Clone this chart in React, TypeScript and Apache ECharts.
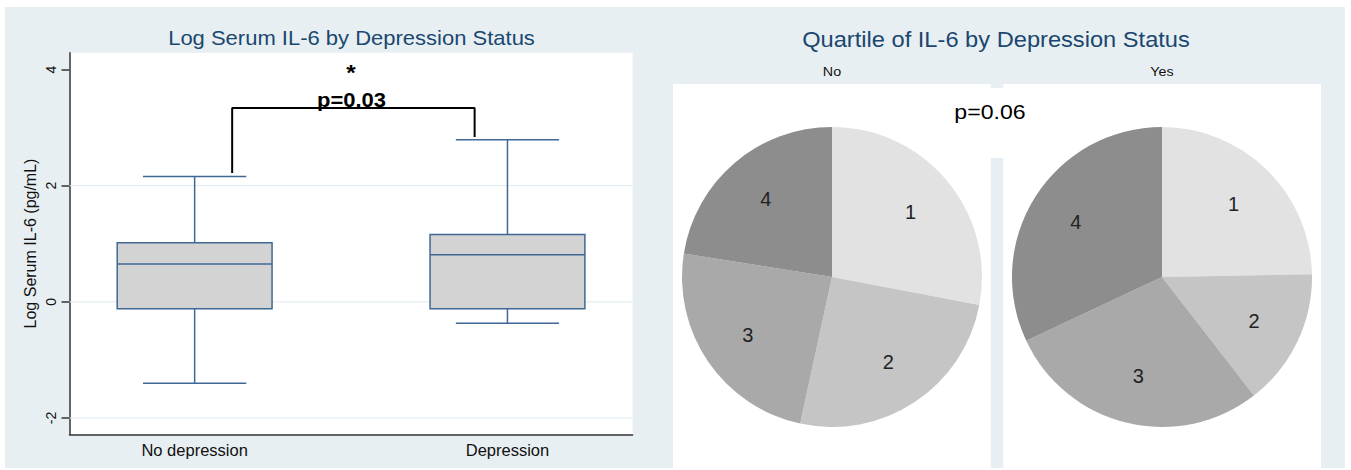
import { useEffect, useRef } from "react";
import * as echarts from "echarts";

// ---------- data ----------
const groups = ["No depression", "Depression"];
const groupPos = [0, 1];
const whiskerLow = [-1.4, -0.37];
const q1 = [-0.12, -0.12];
const median = [0.65, 0.81];
const q3 = [1.02, 1.16];
const whiskerHigh = [2.16, 2.79];
const yTicks = [-2, 0, 2, 4];
const gridValues = [-2, 0, 2];
const bracketX = [0.12, 0.12, 0.895, 0.895];
const bracketY = [2.22, 3.34, 3.34, 2.84];

const quartiles = ["1", "2", "3", "4"];
const pctNo = [28.0, 25.4, 24.1, 22.5];
const pctYes = [24.7, 14.8, 28.5, 32.0];

// ---------- styles ----------
const sliceColors = ["#e2e2e2", "#c5c5c5", "#a9a9a9", "#8d8d8d"];
const BOX_STROKE = "#3f6894";
const BOX_FILL = "#d3d3d3";
const BG = "#e8eff2";
const TITLE = "#1a476f";
const FONT = "'Liberation Sans', Arial, sans-serif";
const GRID = { left: 69.5, top: 52.7, width: 563.1, height: 381.6 };
const SX = 1.1;

export default function App() {
  const ref = useRef<HTMLDivElement>(null);
  useEffect(() => {
    if (!ref.current) return;
    const chart = echarts.init(ref.current, undefined, { renderer: "svg" });

    const pieBase = (center: number[], vals: number[]) => [
      {
        type: "pie",
        center,
        radius: [0, 150],
        startAngle: 90,
        clockwise: true,
        silent: true,
        label: { show: false },
        labelLine: { show: false },
        emphasis: { disabled: true },
        itemStyle: { borderWidth: 0 },
        z: 2,
        data: quartiles.map((q, i) => ({ name: q, value: vals[i], itemStyle: { color: sliceColors[i] } })),
      },
      {
        type: "pie",
        center,
        radius: [48, 150],
        startAngle: 90,
        clockwise: true,
        silent: true,
        labelLine: { show: false },
        emphasis: { disabled: true },
        itemStyle: { color: "rgba(0,0,0,0)", borderWidth: 0 },
        label: { show: true, position: "inside", formatter: "{b}", fontSize: 20, color: "#222", fontFamily: FONT },
        z: 3,
        data: quartiles.map((q, i) => ({ name: q, value: vals[i] })),
      },
    ];

    const txt = (x: number, y: number, text: string, fontSize: number, color: string, fontWeight = "normal") => ({
      type: "text",
      x,
      y,
      scaleX: SX,
      z: 100,
      style: { text, fontSize, fill: color, fontWeight, fontFamily: FONT, textAlign: "center", textVerticalAlign: "middle" },
    });

    chart.setOption({
      animation: false,
      backgroundColor: "#ffffff",
      textStyle: { fontFamily: FONT },
      grid: { left: GRID.left, top: GRID.top, width: GRID.width, height: GRID.height, containLabel: false },
      xAxis: {
        type: "value",
        min: -0.4,
        max: 1.4,
        axisLine: { show: true, onZero: false, lineStyle: { color: "#333", width: 1.5 } },
        axisTick: { show: false },
        splitLine: { show: false },
        axisLabel: {
          customValues: groupPos,
          formatter: (v: number) => groups[Math.round(v)] ?? "",
          fontSize: 16.5,
          color: "#111",
          margin: 7,
        },
      },
      yAxis: {
        type: "value",
        min: -2.28,
        max: 4.29,
        axisLine: { show: true, onZero: false, lineStyle: { color: "#333", width: 1.5 } },
        axisTick: { show: true, customValues: yTicks, length: 8, lineStyle: { color: "#333", width: 1.5 } },
        axisLabel: { customValues: yTicks, rotate: 90, fontSize: 14, color: "#111", margin: 12 },
        splitLine: { show: false },
        name: "Log Serum IL-6 (pg/mL)",
        nameLocation: "middle",
        nameRotate: 90,
        nameGap: 31,
        nameTextStyle: { fontSize: 16, color: "#111" },
      },
      graphic: [
        { type: "rect", z: -100, shape: { x: 5, y: 7, width: 1340, height: 461 }, style: { fill: BG } },
        { type: "rect", z: -90, shape: { x: GRID.left, y: GRID.top, width: GRID.width, height: GRID.height }, style: { fill: "#fff" } },
        { type: "rect", z: -90, shape: { x: 673, y: 84, width: 317.7, height: 384 }, style: { fill: "#fff" } },
        { type: "rect", z: -90, shape: { x: 1003.3, y: 84, width: 317.7, height: 384 }, style: { fill: "#fff" } },
        { type: "rect", z: -90, shape: { x: 989, y: 88, width: 16, height: 70 }, style: { fill: "#fff" } },
        txt(351.5, 38, "Log Serum IL-6 by Depression Status", 20, TITLE),
        txt(996, 40, "Quartile of IL-6 by Depression Status", 21.5, TITLE),
        txt(832, 72, "No", 13, "#111"),
        txt(1162, 72, "Yes", 13, "#111"),
        txt(351, 72, "*", 22, "#000", "bold"),
        txt(351.5, 100, "p=0.03", 20, "#000", "bold"),
        txt(990, 112, "p=0.06", 21, "#000"),
      ],
      series: [
        {
          type: "custom",
          silent: true,
          z: 1,
          data: gridValues.map((v) => [v]),
          encode: { y: 0 },
          renderItem: (params: any, api: any) => {
            const cs = params.coordSys;
            const y = api.coord([0, api.value(0)])[1];
            return {
              type: "line",
              shape: { x1: cs.x, y1: y, x2: cs.x + cs.width, y2: y },
              style: { stroke: "#dde9f0", lineWidth: 1 },
            };
          },
        },
        {
          type: "custom",
          silent: true,
          z: 3,
          data: groupPos.map((x, i) => [x, whiskerLow[i], q1[i], median[i], q3[i], whiskerHigh[i]]),
          encode: { x: 0, y: [1, 2, 3, 4, 5] },
          renderItem: (_params: any, api: any) => {
            const x = api.value(0);
            const bw = api.size([0.495, 0])[0];
            const cw = api.size([0.33, 0])[0];
            const p = (v: number) => api.coord([x, v]);
            const lo = p(api.value(1));
            const b1 = p(api.value(2));
            const md = p(api.value(3));
            const b3 = p(api.value(4));
            const hi = p(api.value(5));
            const cx = lo[0];
            const st = { stroke: BOX_STROKE, lineWidth: 1.5, fill: "none" };
            return {
              type: "group",
              children: [
                { type: "line", shape: { x1: cx, y1: hi[1], x2: cx, y2: b3[1] }, style: st },
                { type: "line", shape: { x1: cx, y1: b1[1], x2: cx, y2: lo[1] }, style: st },
                { type: "line", shape: { x1: cx - cw / 2, y1: hi[1], x2: cx + cw / 2, y2: hi[1] }, style: st },
                { type: "line", shape: { x1: cx - cw / 2, y1: lo[1], x2: cx + cw / 2, y2: lo[1] }, style: st },
                {
                  type: "rect",
                  shape: { x: cx - bw / 2, y: b3[1], width: bw, height: b1[1] - b3[1] },
                  style: { fill: BOX_FILL, stroke: BOX_STROKE, lineWidth: 1.5 },
                },
                { type: "line", shape: { x1: cx - bw / 2, y1: md[1], x2: cx + bw / 2, y2: md[1] }, style: st },
              ],
            };
          },
        },
        {
          type: "line",
          silent: true,
          z: 5,
          symbol: "none",
          showSymbol: false,
          lineStyle: { color: "#000", width: 2 },
          data: bracketX.map((x, i) => [x, bracketY[i]]),
        },
        ...pieBase([832, 277], pctNo),
        ...pieBase([1162, 277], pctYes),
      ],
    });
    return () => chart.dispose();
  }, []);
  return <div ref={ref} style={{ position: "fixed", left: 0, top: 0, width: 1351, height: 470 }} />;
}
